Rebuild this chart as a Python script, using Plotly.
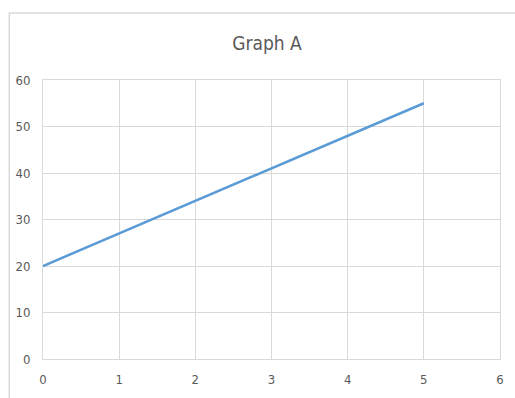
import plotly.graph_objects as go

x_values = [0, 1, 2, 3, 4, 5]
y_values = [20, 27, 34, 41, 48, 55]
title_text = "Graph A"

grid = "#d9d9d9"
txt = "#595959"
font_family = "Liberation Sans Narrow, DejaVu Sans Condensed, Open Sans, sans-serif"

fig = go.Figure()
fig.add_trace(go.Scatter(x=x_values, y=y_values, mode="lines",
                         line=dict(color="#5b9bd5", width=2.5), showlegend=False))

W, H = 515, 398
L, T, R, B = 43, 80, 11, 35
pw, ph = W - L - R, H - T - B

fig.update_layout(
    width=W, height=H,
    margin=dict(l=L, r=R, t=T, b=B),
    paper_bgcolor="white", plot_bgcolor="white",
    title=dict(text=title_text, x=267 / W, xanchor="center", y=1 - 43 / H,
               yanchor="middle",
               font=dict(family=font_family, size=19, color=txt)),
    font=dict(family=font_family, size=13, color=txt),
    xaxis=dict(range=[0, 6], dtick=1, showgrid=True, gridcolor=grid, gridwidth=1,
               zeroline=False, showline=True, linecolor=grid, mirror=True,
               ticks="", ticklabelstandoff=8, fixedrange=True),
    yaxis=dict(range=[0, 60], dtick=10, showgrid=True, gridcolor=grid, gridwidth=1,
               zeroline=False, showline=True, linecolor=grid, mirror=True,
               ticks="", ticklabelstandoff=9, fixedrange=True),
    shapes=[dict(type="rect", xref="paper", yref="paper",
                 x0=(9 - L) / pw, x1=1.2, y0=-0.3, y1=(H - B - 12) / ph,
                 line=dict(color=grid, width=1.5), fillcolor="rgba(0,0,0,0)", layer="below")],
)

page_css = ("document.body.style.margin='0';document.body.style.padding='0';"
            "document.body.style.overflow='hidden';"
            "document.documentElement.style.overflow='hidden';")
fig.write_html("out.html", post_script=page_css, config={"displayModeBar": False})
